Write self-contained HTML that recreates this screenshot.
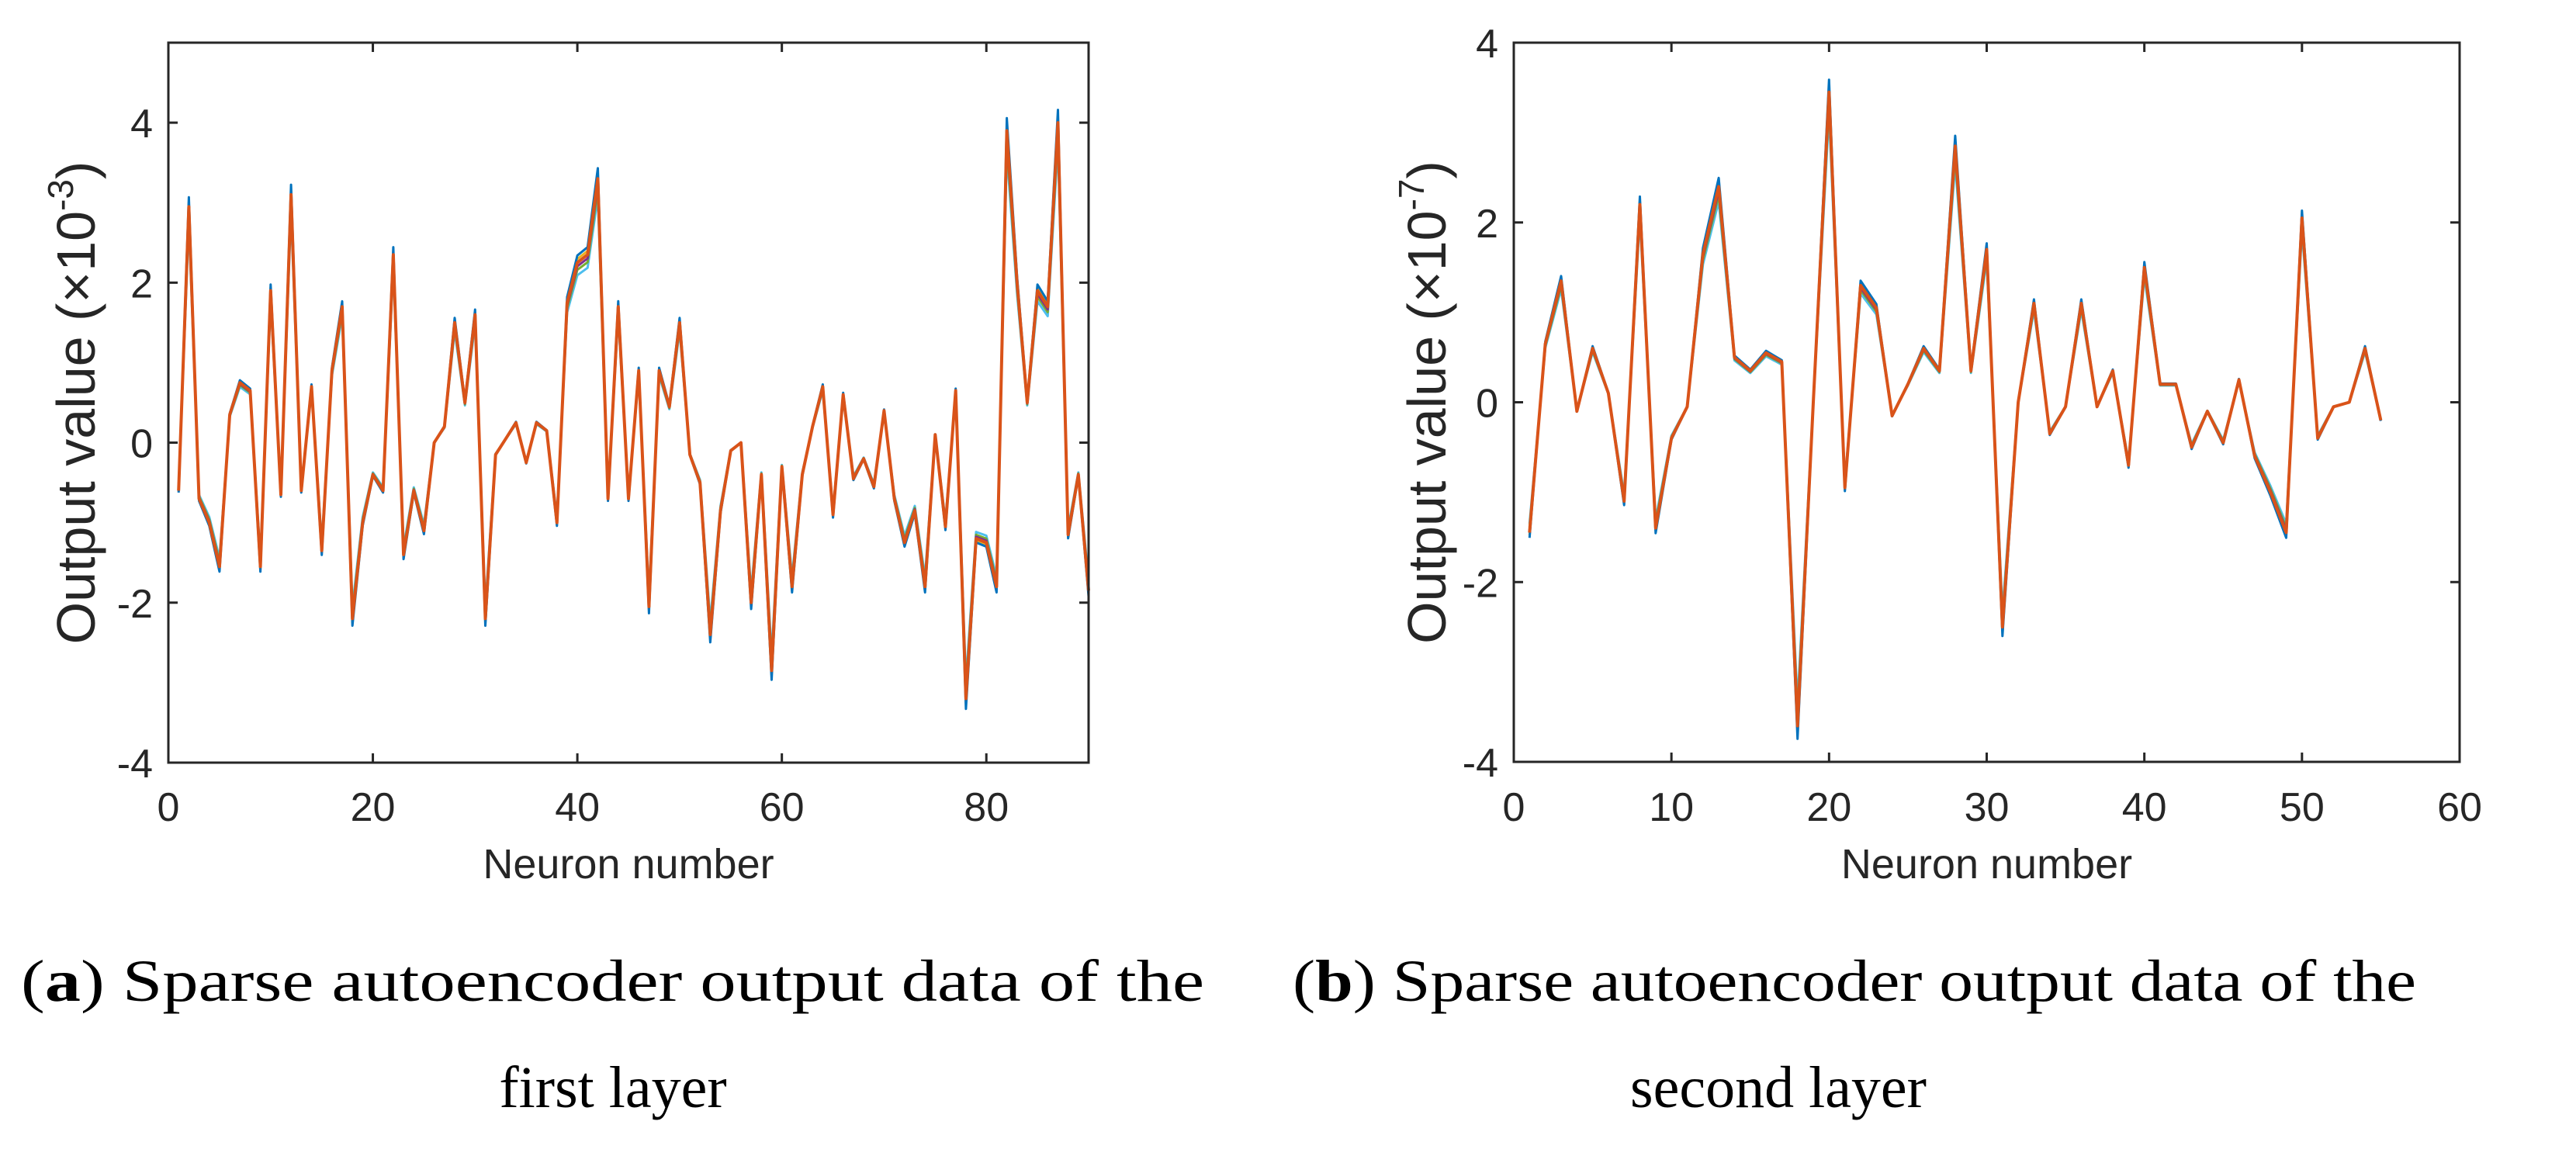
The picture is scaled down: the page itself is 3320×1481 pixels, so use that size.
<!DOCTYPE html>
<html><head><meta charset="utf-8"><style>
html,body{margin:0;padding:0;background:#fff;}
svg{display:block;}
.tk{font-family:"Liberation Sans",sans-serif;font-size:52px;fill:#262626;}
.lab{font-family:"Liberation Sans",sans-serif;fill:#262626;}
.cap{font-family:"Liberation Serif",serif;font-size:76px;fill:#000;}
</style></head><body>
<svg id="fig" width="3320" height="1481" viewBox="0 0 3320 1481" xmlns="http://www.w3.org/2000/svg">
<g id="pa"></g>
<g id="pb"></g>
<text class="cap" x="27" y="1290" textLength="1525" lengthAdjust="spacingAndGlyphs">(<tspan font-weight="bold">a</tspan>) Sparse autoencoder output data of the</text>
<text class="cap" x="790" y="1427" text-anchor="middle">first layer</text>
<text class="cap" x="1666" y="1290" textLength="1448" lengthAdjust="spacingAndGlyphs">(<tspan font-weight="bold">b</tspan>) Sparse autoencoder output data of the</text>
<text class="cap" x="2292" y="1427" text-anchor="middle">second layer</text>
</svg>
<script>
const valuesA = [-0.6,2.95,-0.7,-1.0,-1.55,0.35,0.75,0.65,-1.55,1.9,-0.65,3.1,-0.6,0.7,-1.35,0.9,1.7,-2.2,-1.0,-0.4,-0.6,2.35,-1.4,-0.6,-1.1,0.0,0.2,1.5,0.5,1.6,-2.2,-0.15,0.05,0.25,-0.25,0.25,0.15,-1.0,1.75,2.25,2.35,3.3,-0.7,1.7,-0.7,0.9,-2.05,0.9,0.45,1.5,-0.15,-0.5,-2.4,-0.85,-0.1,0.0,-2.0,-0.4,-2.85,-0.3,-1.8,-0.4,0.2,0.7,-0.9,0.6,-0.45,-0.2,-0.55,0.4,-0.7,-1.25,-0.85,-1.8,0.1,-1.05,0.65,-3.2,-1.2,-1.25,-1.8,3.9,2.0,0.5,1.9,1.7,4.0,-1.15,-0.4,-1.85];
const valuesB = [-1.45,0.65,1.35,-0.1,0.6,0.1,-1.1,2.2,-1.4,-0.4,-0.05,1.65,2.4,0.5,0.35,0.55,0.45,-3.6,0.0,3.45,-0.95,1.3,1.05,-0.15,0.2,0.6,0.35,2.85,0.35,1.7,-2.5,0.0,1.1,-0.35,-0.05,1.1,-0.05,0.35,-0.7,1.5,0.2,0.2,-0.5,-0.1,-0.45,0.25,-0.6,-1.0,-1.45,2.05,-0.4,-0.05,0.0,0.6,-0.2];
const bundleScales = [0.93,0.96,0.98,1.02,1.04,1.0];
const bundleColors = ['#4DBEEE','#77AC30','#7E2F8E','#EDB120','#0072BD','#D95319'];
const xTicksA = [0,20,40,60,80];
const xTicksB = [0,10,20,30,40,50,60];
const yTicks = [4,2,0,-2,-4];
const yTickLabels = ['4','2','0','-2','-4'];
const NS='http://www.w3.org/2000/svg';
function mk(parent,tag,attrs){const e=document.createElementNS(NS,tag);for(const k in attrs)e.setAttribute(k,attrs[k]);parent.appendChild(e);return e;}
function draw(g,box,xmax,ymin,ymax,values,xTicks,exp,ylabX){
  const sx=v=>box.l+(v/xmax)*(box.r-box.l);
  const sy=v=>box.b-(v-ymin)/(ymax-ymin)*(box.b-box.t);
  bundleScales.forEach((s,k)=>{
    const d=values.map((v,i)=>(i?'L':'M')+sx(i+1).toFixed(1)+','+sy(v*s).toFixed(1)).join('');
    const p=mk(g,'path',{d:d,fill:'none',stroke:bundleColors[k],'stroke-width':k==5?4:3,'stroke-linejoin':'round'});
    
    
  });
  const fr=mk(g,'rect',{x:box.l,y:box.t,width:box.r-box.l,height:box.b-box.t,fill:'none',stroke:'#262626','stroke-width':3});
  
  
  xTicks.forEach(t=>{
    const x=sx(t);
    mk(g,'line',{x1:x,x2:x,y1:box.b,y2:box.b-12,stroke:'#262626','stroke-width':3});
    mk(g,'line',{x1:x,x2:x,y1:box.t,y2:box.t+12,stroke:'#262626','stroke-width':3});
    const tx=mk(g,'text',{x:x,y:1058,'text-anchor':'middle',class:'tk'});
    tx.textContent=String(t);
    
    
  });
  yTicks.forEach((t,i)=>{
    const y=sy(t);
    mk(g,'line',{x1:box.l,x2:box.l+12,y1:y,y2:y,stroke:'#262626','stroke-width':3});
    mk(g,'line',{x1:box.r,x2:box.r-12,y1:y,y2:y,stroke:'#262626','stroke-width':3});
    const tx=mk(g,'text',{x:box.l-20,y:y+19,'text-anchor':'end',class:'tk'});
    tx.textContent=yTickLabels[i];
    
    
  });
  const xl=mk(g,'text',{x:(box.l+box.r)/2,y:1132,'text-anchor':'middle',class:'lab','font-size':54});
  xl.textContent='Neuron number';
  
  
  const yc=(box.t+box.b)/2;
  const yl=mk(g,'text',{x:ylabX,y:yc,'text-anchor':'middle',class:'lab','font-size':70,transform:'rotate(-90 '+ylabX+' '+yc+')'});
  
  
  yl.appendChild(document.createTextNode('Output value (×10'));
  const sup=mk(yl,'tspan',{'font-size':46,dy:-28});sup.textContent=exp;
  const cl=mk(yl,'tspan',{dy:28});cl.textContent=')';
}
draw(document.getElementById('pa'),{l:217,r:1403,t:55,b:983},90,-4,5,valuesA,xTicksA,'-3',122);
draw(document.getElementById('pb'),{l:1951,r:3170,t:55,b:982},60,-4,4,valuesB,xTicksB,'-7',1863);
</script>
</body></html>
